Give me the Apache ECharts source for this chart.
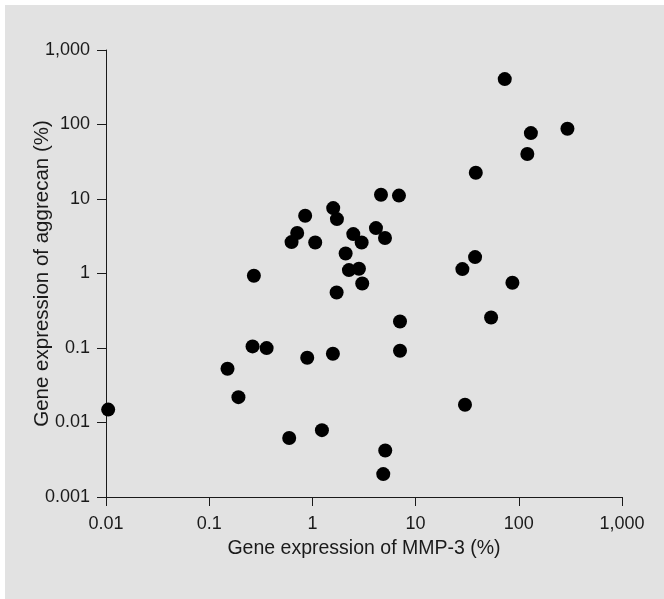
<!DOCTYPE html>
<html>
<head>
<meta charset="utf-8">
<script src="https://cdn.jsdelivr.net/npm/echarts@6/dist/echarts.min.js"></script>
<style>
html,body{margin:0;padding:0;background:#fff;}
#chart{width:664px;height:599px;}
</style>
</head>
<body>
<div id="chart"></div>
<script>
// MMP-3 gene expression (%) - x values
var mmp3 = [0.0105, 0.1505, 0.192, 0.271, 0.263, 0.36, 0.596, 0.628, 0.712, 0.851,
  0.891, 1.065, 1.237, 1.591, 1.58, 1.729, 1.717, 2.099, 2.26, 2.49,
  2.825, 3.0, 3.04, 4.13, 4.62, 5.05, 5.08, 4.86, 6.9, 7.06,
  7.06, 28.4, 37.7, 30.1, 38.3, 53.9, 73.1, 86.7, 121, 131, 296];
// Aggrecan gene expression (%) - y values
var aggrecan = [0.0149, 0.0526, 0.0219, 0.931, 0.105, 0.0997, 0.00618, 2.64, 3.49, 5.95,
  0.0739, 2.61, 0.0079, 7.55, 0.0836, 5.37, 0.556, 1.855, 1.11, 3.38,
  1.156, 2.61, 0.734, 4.07, 11.4, 2.99, 0.00421, 0.00203, 11.1, 0.227,
  0.0917, 1.146, 1.66, 0.0173, 22.5, 0.257, 407, 0.75, 40.1, 76.7, 87.5];
var xTickLabels = ['0.01', '0.1', '1', '10', '100', '1,000'];
var yTickLabels = ['0.001', '0.01', '0.1', '1', '10', '100', '1,000'];
var xTitle = 'Gene expression of MMP-3 (%)';
var yTitle = 'Gene expression of aggrecan (%)';

var points = mmp3.map(function (x, i) { return [x, aggrecan[i]]; });

var chart = echarts.init(document.getElementById('chart'), null, {renderer: 'canvas'});
var font = 'Liberation Sans, Arial, sans-serif';
var axisColor = '#1a1a1a';
function fmt(labels, minExp) {
  return function (v) {
    var e = Math.round(Math.log10(v));
    return labels[e - minExp] || '';
  };
}
chart.setOption({
  backgroundColor: '#ffffff',
  animation: false,
  graphic: [{
    type: 'rect', left: 5, top: 5, silent: true, z: -10,
    shape: {width: 659, height: 594},
    style: {fill: '#e2e2e2'}
  }],
  grid: {left: 106, right: 42, top: 50, bottom: 102, containLabel: false},
  xAxis: {
    type: 'log', logBase: 10, min: 0.01, max: 1000, splitNumber: 5,
    name: xTitle, nameLocation: 'middle', nameGap: 42, nameMoveOverlap: false,
    nameTextStyle: {fontFamily: font, fontSize: 19.5, color: axisColor},
    axisLine: {show: true, lineStyle: {color: axisColor, width: 1}},
    axisTick: {show: true, length: 9, lineStyle: {color: axisColor}},
    minorTick: {show: false},
    splitLine: {show: false},
    axisLabel: {fontFamily: font, fontSize: 18, color: axisColor, margin: 18, formatter: fmt(xTickLabels, -2)}
  },
  yAxis: {
    type: 'log', logBase: 10, min: 0.001, max: 1000, splitNumber: 6,
    name: yTitle, nameLocation: 'middle', nameGap: 53, nameMoveOverlap: false,
    nameTextStyle: {fontFamily: font, fontSize: 20.5, color: axisColor},
    axisLine: {show: true, lineStyle: {color: axisColor, width: 1}},
    axisTick: {show: true, length: 9, lineStyle: {color: axisColor}},
    splitLine: {show: false},
    axisLabel: {fontFamily: font, fontSize: 18, color: axisColor, margin: 16, formatter: fmt(yTickLabels, -3)}
  },
  series: [{
    type: 'scatter',
    data: points,
    symbol: 'circle',
    symbolSize: 14,
    itemStyle: {color: '#000000', opacity: 1},
    emphasis: {disabled: true}
  }]
});
</script>
</body>
</html>
